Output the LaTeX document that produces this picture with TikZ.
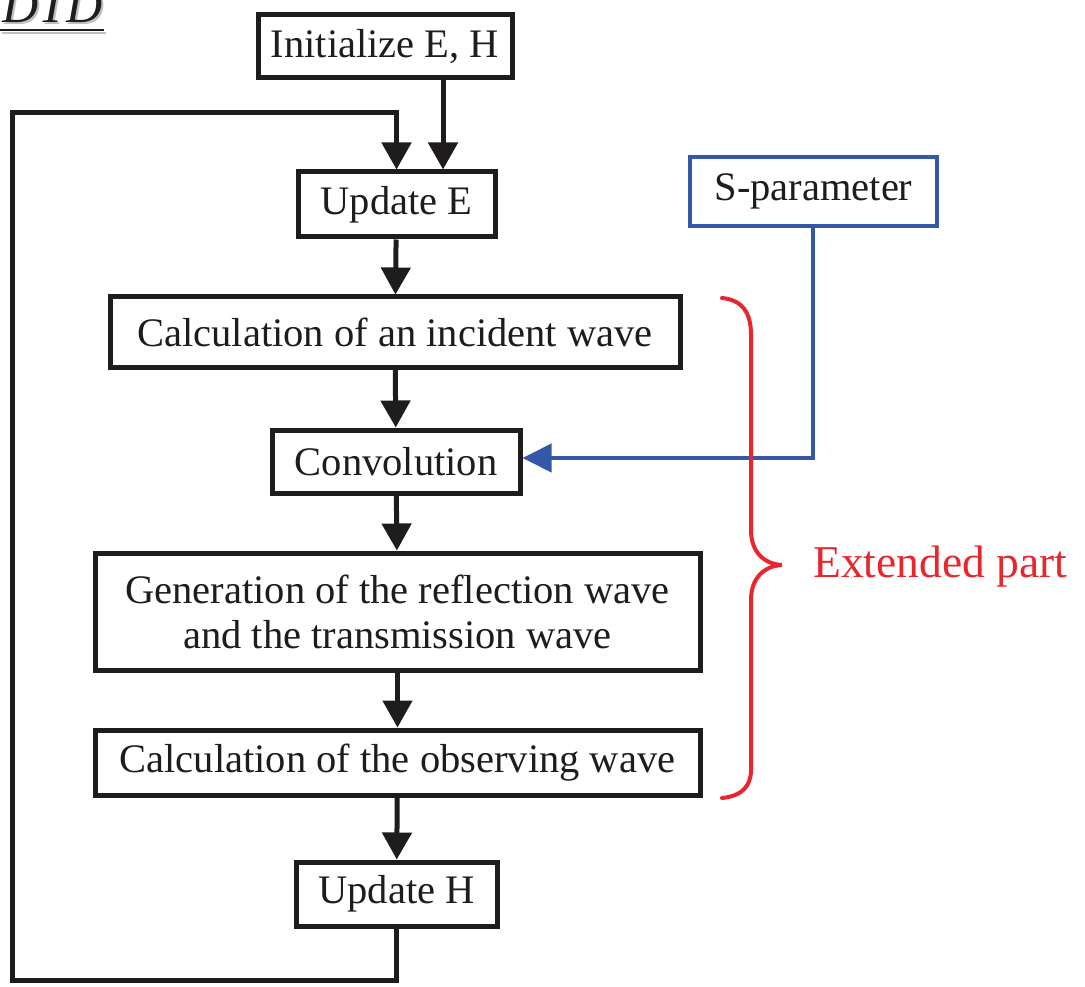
\documentclass[tikz,border=0pt]{standalone}
\usepackage{fontspec}
\setmainfont{Liberation Serif}
\usetikzlibrary{arrows.meta}
\definecolor{bracered}{RGB}{232,38,45}
\definecolor{sblue}{RGB}{52,88,168}
\definecolor{boxblack}{RGB}{30,28,28}
\begin{document}
\begin{tikzpicture}[x=1pt,y=-1pt,
  box/.style={draw=boxblack,line width=5pt,fill=white,inner sep=0pt,font=\fontsize{40.5}{45}\selectfont,align=center,text=boxblack},
  flow/.style={draw=boxblack,line width=5pt,-{Triangle[length=27pt,width=29pt]}},
  bluearrow/.style={draw=sblue,line width=4pt,-{Triangle[length=29pt,width=28pt]}}]
\path[use as bounding box] (0,0) rectangle (1085,987);
\clip (0,0) rectangle (1085,987);
% title fragment
\node[anchor=base west,inner sep=0pt,text=gray!50,font=\fontsize{50}{50}\selectfont\itshape] at (4,25) {DTD};
\node[anchor=base west,inner sep=0pt,text=boxblack,font=\fontsize{50}{50}\selectfont\itshape] (title) at (2,23) {DTD};
\draw[boxblack,line width=2.5pt] (0,30) -- (104,30);
\draw[gray!50,line width=1.5pt] (2,33) -- (106,33);
% boxes
\node[box,minimum width=254pt,minimum height=63pt] (init) at (385,46.5) {Initialize E, H};
\node[box,minimum width=197pt,minimum height=65pt] (upe) at (396.5,204.5) {Update E};
\node[box,minimum width=570pt,minimum height=70pt] (inc) at (395,332) {Calculation of an incident wave};
\node[box,minimum width=248pt,minimum height=63pt] (conv) at (396,461.5) {Convolution};
\node[box,minimum width=605pt,minimum height=117pt] (gen) at (397.5,611.5) {Generation of the reflection wave\\and the transmission wave};
\node[box,minimum width=605pt,minimum height=65pt] (obs) at (397.5,762.5) {Calculation of the observing wave};
\node[box,minimum width=201pt,minimum height=64pt] (uph) at (396.5,894) {Update H};
\node[box,draw=sblue,line width=4pt,minimum width=247pt,minimum height=69pt] (spar) at (813.5,191.5) {S-parameter};
% flow arrows
\draw[flow] (init.south -| 443,0) -- (upe.north -| 443,0);
\draw[flow] (upe) -- (inc);
\draw[flow] (inc) -- (conv);
\draw[flow] (conv) -- (gen);
\draw[flow] (gen) -- (obs);
\draw[flow] (obs) -- (uph);
\coordinate (lb) at (12,980);
\coordinate (lt) at (12,113);
\draw[flow] (uph.south) -- (uph.south |- lb) -- (lb) -- (lt) -- (lt -| upe.north) -- (upe.north);
% S-parameter feed
\coordinate (sc) at (813,458);
\draw[bluearrow] (spar.south -| sc) -- (sc) -- (conv.east |- sc);
% brace
\draw[bracered,line width=4pt,line cap=round] (722,298) .. controls (742,300) and (751,312) .. (751,335) -- (751,530) .. controls (751,552) and (764,564) .. (782,565) .. controls (764,566) and (751,578) .. (751,600) -- (751,770) .. controls (751,786) and (742,796) .. (722,798);
\node[anchor=west,text=bracered,inner sep=0pt,font=\fontsize{45.5}{50}\selectfont] (ext) at (813,567) {Extended part};
\end{tikzpicture}
\end{document}
